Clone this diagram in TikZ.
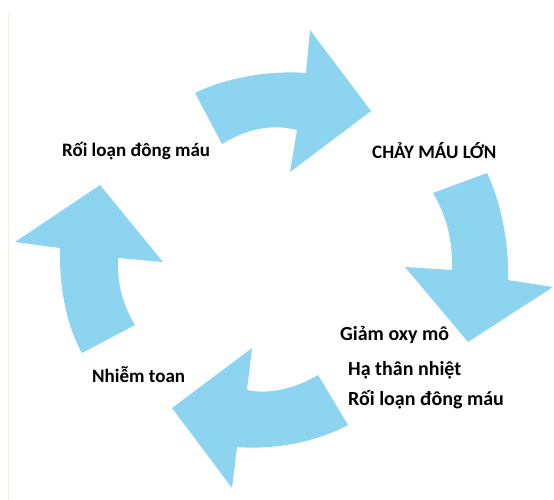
\documentclass[tikz,border=0pt]{standalone}
\usepackage{fontspec}
\setmainfont{Carlito}
\usetikzlibrary{positioning}
\usepackage{xcolor}
\definecolor{SkyArrow}{HTML}{8DD4F0}
\definecolor{EdgeLine}{HTML}{EFEFE0}

\begin{document}
\begin{tikzpicture}[x=1pt,y=-1pt,
    lbl/.style={anchor=base west,inner sep=0pt,font=\bfseries\fontsize{19}{22}\selectfont},
    lblbig/.style={lbl,font=\bfseries\fontsize{20}{24}\selectfont}]
    \useasboundingbox (0,0) rectangle (554,500);
    \draw[EdgeLine] (8,15) -- (8,500);
    % top arrow
    \fill[SkyArrow] (195,93) .. controls (225,78) and (270,70) .. (306,73)
      -- (310,30) -- (371,111) -- (290,172) -- (297,130)
      .. controls (270,123) and (245,130) .. (222,144) -- cycle;
    % right arrow
    \fill[SkyArrow] (487,173) .. controls (502,205) and (509,245) .. (508,280)
      -- (553,287) -- (468,342) -- (405,267) -- (452,270)
      .. controls (453,240) and (446,215) .. (433,193) -- cycle;
    % bottom arrow
    \fill[SkyArrow] (348,425) .. controls (316,442) and (275,450) .. (237,447)
      -- (232,488) -- (172,408) -- (252,348) -- (247,390)
      .. controls (270,395) and (296,388) .. (318,375) -- cycle;
    % left arrow
    \fill[SkyArrow] (82,353) .. controls (66,325) and (59,285) .. (60,248)
      -- (15,242) -- (100,185) -- (163,262) -- (118,258)
      .. controls (117,285) and (123,305) .. (135,325) -- cycle;
    % labels
    \node[lbl] (coag) at (62,157) {Rối loạn đông máu};
    \node[lbl] (bleed) at (372,158) {CHẢY MÁU LỚN};
    \node[lblbig] (oxy) at (340,340) {Giảm oxy mô};
    \node[lblbig] (hypo) at (348,375) {Hạ thân nhiệt};
    \node[lblbig] (coag2) at (348,405) {Rối loạn đông máu};
    \node[lbl] (acid) at (92,382) {Nhiễm toan};
\end{tikzpicture}
\end{document}
